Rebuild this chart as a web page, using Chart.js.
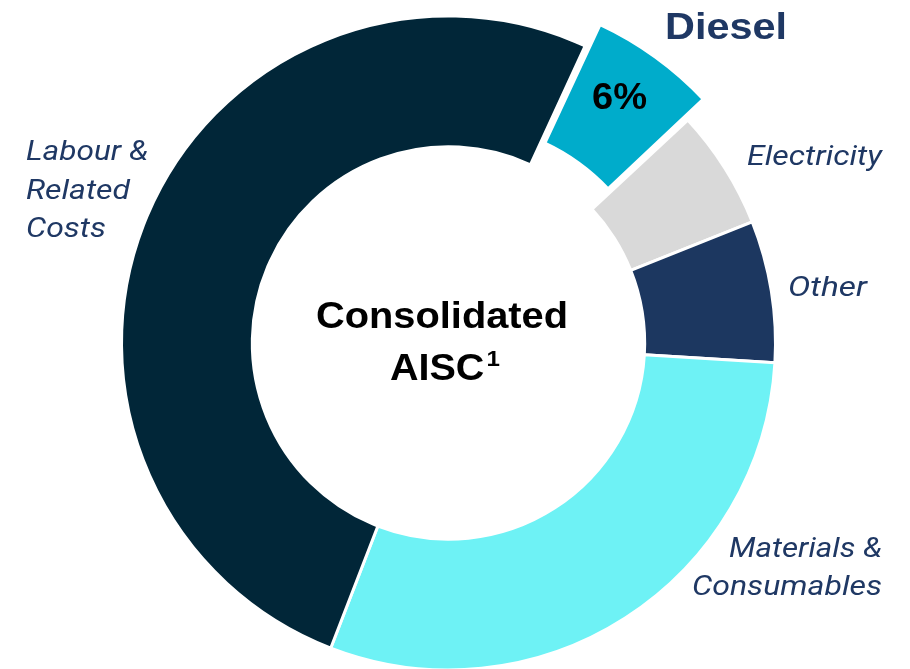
<!DOCTYPE html>
<html>
<head>
<meta charset="utf-8">
<script src="https://cdn.jsdelivr.net/npm/chart.js@4.4.1/dist/chart.umd.min.js"></script>
<style>
  html, body { margin: 0; padding: 0; background: #ffffff; }
  #wrap { width: 910px; height: 669px; position: relative; }
</style>
</head>
<body>
<div id="wrap"><canvas id="c"></canvas></div>
<script>
// ---- data ----
const categories = ['Diesel', 'Electricity', 'Other', 'Materials & Consumables', 'Labour & Related Costs'];
const shares = [6.2, 5.9, 7.0, 29.9, 51.0];
const highlightLabel = '6%';
const centreLines = ['Consolidated', 'AISC'];
const centreSup = '1';

// ---- styles ----
const colours = ['#00ACCB', '#D9D9D9', '#1C3760', '#6EF2F5', '#012638'];
const offsets = [64, 0, 0, 0, 0];
const navy = '#1F3864';

function fitText(ctx, text, font, x, y, align, width, colour) {
  ctx.save();
  ctx.font = font;
  ctx.fillStyle = colour;
  ctx.textBaseline = 'alphabetic';
  ctx.textAlign = 'left';
  const w = ctx.measureText(text).width;
  const s = width / w;
  const left = align === 'right' ? x - width : (align === 'center' ? x - width / 2 : x);
  ctx.translate(left, y);
  ctx.scale(s, 1);
  ctx.fillText(text, 0, 0);
  ctx.restore();
}

const BOLD = '"Liberation Sans", Arial, sans-serif';
const ITAL = 'Roboto, "Noto Sans", sans-serif';

const labelPlugin = {
  id: 'labels',
  afterDraw(chart) {
    const ctx = chart.ctx;
    const it = 'italic 400 28px ' + ITAL;
    fitText(ctx, categories[0], '700 37px ' + BOLD, 665, 38.5, 'left', 122, navy);
    fitText(ctx, categories[1], it, 747, 165, 'left', 135, navy);
    fitText(ctx, categories[2], it, 788, 296, 'left', 79, navy);
    const mat = categories[3].split(' & ');
    fitText(ctx, mat[0] + ' &', it, 882, 556.5, 'right', 153, navy);
    fitText(ctx, mat[1], it, 882, 595, 'right', 190, navy);
    const lab = categories[4].split(' & ');
    const lab2 = lab[1].split(' ');
    fitText(ctx, lab[0] + ' &', it, 26, 159.5, 'left', 122, navy);
    fitText(ctx, lab2[0], it, 26, 199, 'left', 104, navy);
    fitText(ctx, lab2[1], it, 26, 237, 'left', 80, navy);
    fitText(ctx, highlightLabel, '700 37px ' + BOLD, 592, 108.5, 'left', 55, '#000000');
    fitText(ctx, centreLines[0], '700 36px ' + BOLD, 316, 328, 'left', 252, '#000000');
    ctx.save();
    ctx.font = '700 36px ' + BOLD;
    const wA = ctx.measureText(centreLines[1]).width;
    ctx.font = '700 22px ' + BOLD;
    const w1 = ctx.measureText(centreSup).width;
    ctx.restore();
    const total = 110;
    const sc = total / (wA + w1 + 2);
    fitText(ctx, centreLines[1], '700 36px ' + BOLD, 390, 380, 'left', wA * sc, '#000000');
    fitText(ctx, centreSup, '700 22px ' + BOLD, 390 + (wA + 2) * sc, 366, 'left', w1 * sc, '#000000');
  }
};

new Chart(document.getElementById('c'), {
  type: 'doughnut',
  data: {
    labels: categories,
    datasets: [{
      data: shares,
      backgroundColor: colours,
      borderColor: '#ffffff',
      borderWidth: 3,
      offset: offsets,
      hoverOffset: 0
    }]
  },
  options: {
    responsive: true,
    maintainAspectRatio: false,
    animation: false,
    rotation: 24.7,
    cutout: '60%',
    radius: 327,
    layout: { padding: { left: 0, right: 13, top: 17, bottom: 0 } },
    events: [],
    plugins: {
      legend: { display: false },
      tooltip: { enabled: false },
      title: { display: false }
    }
  },
  plugins: [labelPlugin]
});
</script>
</body>
</html>
